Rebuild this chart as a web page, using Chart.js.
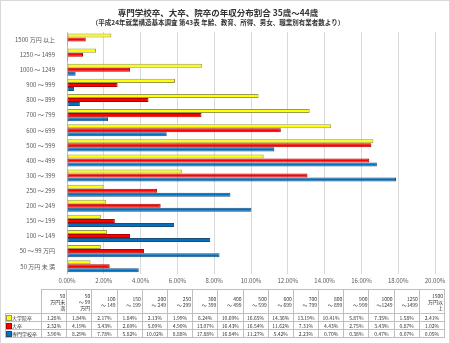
<!DOCTYPE html>
<html>
<head>
<meta charset="utf-8">
<script src="https://cdn.jsdelivr.net/npm/chart.js@4"></script>
<style>
  body { margin: 0; background: #fff; font-family: "Noto Sans CJK JP", sans-serif; }
  #wrap { position: relative; width: 448px; height: 342px; border: 1px solid #d9d9d9; }
  canvas { position: absolute; left: 0; top: 0; }
  #tbl { position: absolute; left: 4px; top: 288px; border-collapse: collapse; font-size: 5px; color: #333; table-layout: fixed; }
  #tbl td { border: 1px solid #bfbfbf; padding: 0 1px; height: 7px; text-align: center; white-space: nowrap; line-height: 6px; overflow: hidden; }
  #tbl tr.head td { height: 23px; text-align: right; line-height: 6px; vertical-align: middle; }
  #tbl td.rh { text-align: left; }
  #tbl tr.head td.blank { border: none; }
  .mk { display: inline-block; width: 4px; height: 4px; margin-right: 1px; vertical-align: middle; }
</style>
</head>
<body>
<div id="wrap">
  <canvas id="chart" width="448" height="342"></canvas>
  <table id="tbl"></table>
</div>
<script>
// categories (ascending income, as in the data table)
const categories = ["50 万円 未 満", "50 ～ 99 万円", "100 ～ 149", "150 ～ 199", "200 ～ 249", "250 ～ 299",
  "300 ～ 399", "400 ～ 499", "500 ～ 599", "600 ～ 699", "700 ～ 799", "800 ～ 899", "900 ～ 999",
  "1000 ～ 1249", "1250 ～ 1499", "1500 万円 以上"];
const tableHeads = ["50<br>万円未<br>満", "50<br>～ 99<br>万円", "100<br>～ 149", "150<br>～ 199", "200<br>～ 249",
  "250<br>～ 299", "300<br>～ 399", "400<br>～ 499", "500<br>～ 599", "600<br>～ 699", "700<br>～ 799",
  "800<br>～ 899", "900<br>～ 999", "1000<br>～1249", "1250<br>～1499", "1500<br>万円以<br>上"];
const seriesNames = ["大学院卒", "大卒", "専門学校卒"];
const graduate = [1.28, 1.84, 2.17, 1.84, 2.13, 1.99, 6.24, 10.69, 16.65, 14.36, 13.19, 10.41, 5.87, 7.35, 1.58, 2.41];
const university = [2.32, 4.19, 3.43, 2.60, 5.09, 4.90, 13.07, 16.43, 16.54, 11.62, 7.31, 4.43, 2.75, 3.43, 0.87, 1.02];
const vocational = [3.90, 8.29, 7.78, 5.82, 10.02, 8.88, 17.88, 16.84, 11.27, 5.42, 2.23, 0.70, 0.38, 0.47, 0.07, 0.05];
const xTicks = [0, 2, 4, 6, 8, 10, 12, 14, 16, 18, 20];

const fills = ["#ffff00", "#ff0000", "#0070c0"];
const borders = ["#9a9a50", "#b00000", "#1f4e79"];
const series = [graduate, university, vocational];

// chart draws highest bracket at top
const rev = a => a.slice().reverse();

new Chart(document.getElementById("chart"), {
  type: "bar",
  data: {
    labels: rev(categories),
    datasets: series.map((s, i) => ({
      label: seriesNames[i],
      data: rev(s),
      backgroundColor: fills[i],
      borderColor: borders[i],
      borderWidth: 1,
      borderSkipped: false,
      categoryPercentage: 0.8,
      barPercentage: 1.0
    }))
  },
  options: {
    indexAxis: "y",
    responsive: false,
    animation: false,
    layout: { padding: { left: 0, right: 14, top: 4, bottom: 56 } },
    plugins: {
      legend: { display: false },
      tooltip: { enabled: false },
      title: {
        display: true,
        text: "専門学校卒、大卒、院卒の年収分布割合 35歳～44歳",
        font: { family: "Noto Sans CJK JP", size: 8.5, weight: "bold" },
        color: "#333",
        padding: { top: 3, bottom: 0 }
      },
      subtitle: {
        display: true,
        text: "（平成24年就業構造基本調査 第43表 年齢、教育、所得、男女、職業別有業者数より）",
        font: { family: "Noto Sans CJK JP", size: 6.5, weight: "bold" },
        color: "#333",
        padding: { top: 0, bottom: 6 }
      }
    },
    scales: {
      x: {
        min: 0, max: 20,
        afterBuildTicks: s => { s.ticks = xTicks.map(v => ({ value: v })); },
        ticks: {
          callback: v => v.toFixed(2) + "%",
          font: { family: "Noto Sans CJK JP", size: 6 },
          color: "#595959",
          maxRotation: 0,
          padding: 3
        },
        grid: { color: "#d9d9d9", drawTicks: false },
        border: { display: false }
      },
      y: {
        afterFit: s => { s.width = 66; },
        ticks: {
          font: { family: "Noto Sans CJK JP", size: 6 },
          color: "#595959",
          padding: 4,
          autoSkip: false
        },
        grid: { display: false },
        border: { display: true, color: "#bfbfbf" }
      }
    }
  }
});

// data table below the plot
const tbl = document.getElementById("tbl");
let html = '<colgroup><col style="width:36px">' + categories.map(() => '<col style="width:25.2px">').join("") + "</colgroup>";
html += '<tr class="head"><td class="blank"></td>' + tableHeads.map(h => "<td>" + h + "</td>").join("") + "</tr>";
series.forEach((s, i) => {
  html += '<tr><td class="rh"><span class="mk" style="background:' + fills[i] + ';outline:1px solid ' + borders[i] + '"></span>' + seriesNames[i] + "</td>" +
    s.map(v => "<td>" + v.toFixed(2) + "%</td>").join("") + "</tr>";
});
tbl.innerHTML = html;
</script>
</body>
</html>
